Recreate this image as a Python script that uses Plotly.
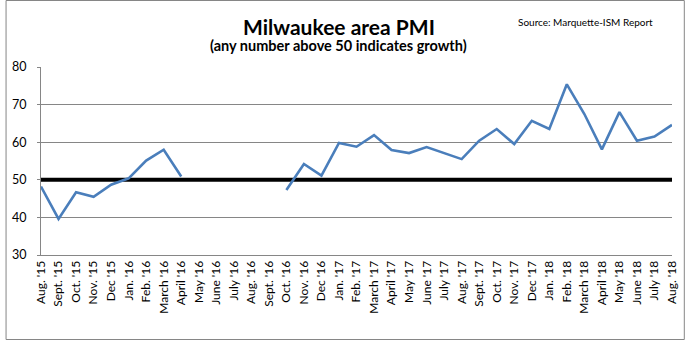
import plotly.graph_objects as go

months = ["Aug. '15", "Sept. '15", "Oct. '15", "Nov. '15", "Dec '15", "Jan. '16", "Feb. '16",
          "March '16", "April '16", "May '16", "June '16", "July '16", "Aug. '16", "Sept. '16",
          "Oct. '16", "Nov. '16", "Dec '16", "Jan. '17", "Feb. '17", "March '17", "April '17",
          "May '17", "June '17", "July '17", "Aug. '17", "Sept. '17", "Oct. '17", "Nov. '17",
          "Dec '17", "Jan. '18", "Feb. '18", "March '18", "April '18", "May '18", "June '18",
          "July '18", "Aug. '18"]

pmi = [48.2, 39.6, 46.7, 45.5, 48.7, 50.4, 55.1, 58.0, 50.9,
       None, None, None, None, None,
       47.3, 54.2, 51.1, 59.8, 58.8, 61.9, 57.9, 57.1, 58.7, 57.1, 55.5, 60.4,
       63.5, 59.5, 65.7, 63.5, 75.4, 67.5, 58.1, 68.0, 60.4, 61.5, 64.6]

growth_threshold = [50] * len(months)

y_ticks = [30, 40, 50, 60, 70, 80]

W, H = 691, 341
ML, MR, MT, MB = 36, 14, 67, 86
pw, ph = W - ML - MR, H - MT - MB

fig = go.Figure()
fig.add_trace(go.Scatter(x=months, y=growth_threshold, mode="lines",
                         line=dict(color="#000000", width=4), hoverinfo="skip",
                         showlegend=False))
fig.add_trace(go.Scatter(x=months, y=pmi, mode="lines", connectgaps=False,
                         line=dict(color="#4A7EBB", width=2.6), showlegend=False))

font_main = "Lato, 'Open Sans', 'DejaVu Sans', sans-serif"

fig.update_layout(
    width=W, height=H,
    margin=dict(l=ML, r=MR, t=MT, b=MB),
    paper_bgcolor="white", plot_bgcolor="white",
    font=dict(family=font_main, color="#000000"),
    xaxis=dict(type="category", categoryorder="array", categoryarray=months,
               range=[0, len(months) - 1], tickangle=-90,
               tickfont=dict(size=12, family=font_main, color="#000"),
               showgrid=False, showline=True, linecolor="#868686", linewidth=1,
               ticks="", zeroline=False, fixedrange=True),
    yaxis=dict(range=[30, 80], tickvals=y_ticks, ticktext=[str(v) for v in y_ticks],
               tickfont=dict(size=12.5, family=font_main, color="#000"),
               showgrid=True, gridcolor="#868686", gridwidth=1,
               showline=True, linecolor="#868686", linewidth=1,
               ticks="outside", ticklen=3, tickcolor="#868686",
               ticklabelstandoff=8, zeroline=False, fixedrange=True),
    annotations=[
        dict(text="<b>Milwaukee area PMI</b>", xref="paper", yref="paper",
             x=(339 - ML) / pw, y=(H - MB - 26) / ph, yanchor="middle", xanchor="center",
             showarrow=False, font=dict(size=21, family=font_main, color="#000")),
        dict(text="<b>(any number above 50 indicates growth)</b>", xref="paper", yref="paper",
             x=(338 - ML) / pw, y=(H - MB - 45) / ph, yanchor="middle", xanchor="center",
             showarrow=False, font=dict(size=14.5, family=font_main, color="#000")),
        dict(text="Source: Marquette-ISM Report", xref="paper", yref="paper",
             x=(589 - ML) / pw, y=(H - MB - 22) / ph, yanchor="middle", xanchor="center",
             showarrow=False, font=dict(size=10, family=font_main, color="#000")),
    ],
    shapes=[
        dict(type="rect", xref="paper", yref="paper",
             x0=(0.5 - ML) / pw, x1=(W - 1.5 - ML) / pw,
             y0=(H - MB - (H - 1.5)) / ph, y1=(H - MB - 0.5) / ph,
             line=dict(color="#868686", width=1), layer="below"),
    ],
)

fig.write_html("out.html")
